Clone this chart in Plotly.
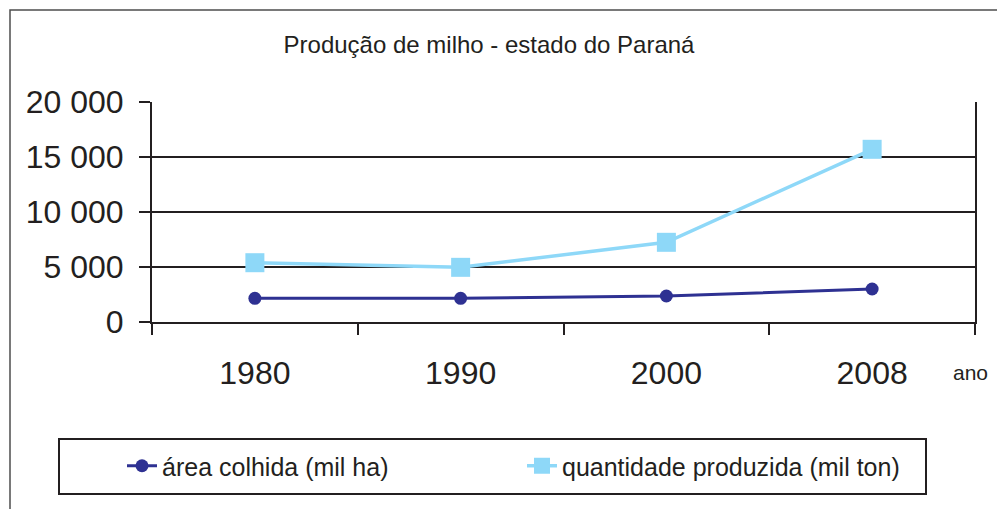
import plotly.graph_objects as go

# Data
anos = ["1980", "1990", "2000", "2008"]
area_colhida = [2155, 2155, 2364, 3000]          # mil ha
quantidade_produzida = [5390, 4970, 7245, 15700]  # mil ton
y_tickvals = [0, 5000, 10000, 15000, 20000]
y_ticktext = ["0", "5 000", "10 000", "15 000", "20 000"]

W, H = 997, 509
L, R, T, B = 152, 975, 102, 322


def px(x):
    return (x - L) / (R - L)


def py(y):
    return (B - y) / (B - T)


INK = "#231f20"
FONT = "Liberation Sans, Arial, sans-serif"

fig = go.Figure()
fig.add_trace(go.Scatter(
    x=anos, y=area_colhida, name="área colhida (mil ha)",
    mode="lines+markers",
    line=dict(color="#2e3192", width=3),
    marker=dict(symbol="circle", size=13, color="#2e3192"),
    cliponaxis=False,
))
fig.add_trace(go.Scatter(
    x=anos, y=quantidade_produzida, name="quantidade produzida (mil ton)",
    mode="lines+markers",
    line=dict(color="#8ed8f8", width=3.5),
    marker=dict(symbol="square", size=19, color="#8ed8f8"),
    cliponaxis=False,
))

fig.update_layout(
    width=W, height=H,
    margin=dict(l=L, r=W - R, t=T, b=H - B),
    paper_bgcolor="white", plot_bgcolor="white",
    font=dict(family=FONT, color=INK),
    title=dict(text="Produção de milho - estado do Paraná",
               x=px(489), xref="paper", xanchor="center",
               y=1 - 45 / H, yref="container", yanchor="middle",
               font=dict(size=24, color=INK, family=FONT)),
    showlegend=True,
    legend=dict(orientation="h", x=px(122), xanchor="left",
                y=py(466), yanchor="middle",
                bgcolor="rgba(0,0,0,0)", borderwidth=0,
                font=dict(size=25, color=INK, family=FONT),
                entrywidth=355, entrywidthmode="pixels",
                itemsizing="trace"),
    xaxis=dict(type="category", range=[-0.5, len(anos) - 0.5],
               tickson="boundaries", ticks="outside",
               ticklen=11, tickwidth=2, tickcolor=INK,
               showline=True, linecolor=INK, linewidth=2,
               showgrid=False, tickfont=dict(size=32, color=INK),
               ticklabelstandoff=22, fixedrange=True),
    yaxis=dict(range=[0, 20000], tickvals=y_tickvals, ticktext=y_ticktext,
               ticks="outside", ticklen=11, tickwidth=2, tickcolor=INK,
               showline=True, mirror=True, linecolor=INK, linewidth=2,
               showgrid=True, gridcolor=INK, gridwidth=2,
               zeroline=False, tickfont=dict(size=32, color=INK),
               ticklabelstandoff=9, fixedrange=True),
    shapes=[
        # outer frame (cropped at right and bottom)
        dict(type="rect", xref="paper", yref="paper",
             x0=px(10), x1=px(1020), y0=py(10), y1=py(540),
             line=dict(color="#4d4d4d", width=1.5), layer="below"),
        # legend box
        dict(type="rect", xref="paper", yref="paper",
             x0=px(59), x1=px(926), y0=py(439), y1=py(494),
             line=dict(color=INK, width=2)),
    ],
    annotations=[
        dict(text="ano", xref="paper", yref="paper", x=px(970), y=py(372),
             xanchor="center", yanchor="middle", showarrow=False,
             font=dict(size=21, color=INK, family=FONT)),
    ],
)

fig.write_html(
    "out.html",
    config={"displayModeBar": False},
    post_script="document.body.style.margin='0';document.body.style.overflow='hidden';",
)
